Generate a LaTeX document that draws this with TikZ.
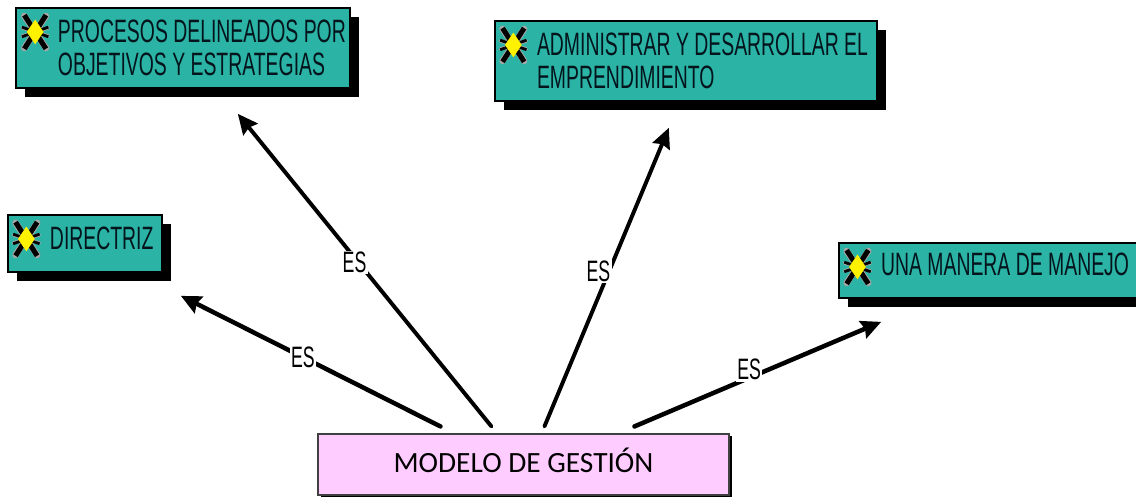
\documentclass[tikz,border=0pt]{standalone}
\usepackage{fontspec}
\usetikzlibrary{shadows,arrows.meta}
\newfontfamily\cajafont[FakeStretch=0.6]{Liberation Sans}
\newfontfamily\modelofont{Carlito}
\definecolor{verdecaja}{HTML}{2BB3A5}
\definecolor{rosacaja}{HTML}{FFCCFF}
\definecolor{tinta}{HTML}{04141C}
\tikzset{
	caja/.style={rectangle,draw=black,line width=1.2pt,fill=verdecaja,text=tinta,
		drop shadow={shadow xshift=0.22cm,shadow yshift=-0.23cm,fill=black,opacity=1},
		inner sep=0pt,align=flush left,font=\cajafont\fontsize{23}{23.5}\selectfont,
		execute at begin node={\leftskip=1.05cm}},
	modelo/.style={rectangle,draw=black!75,line width=0.8pt,fill=rosacaja,
		drop shadow={shadow xshift=0.08cm,shadow yshift=-0.06cm,fill=black,opacity=1},
		font=\modelofont\fontsize{20.9}{24}\selectfont},
	flecha/.style={-{Stealth[length=0.5cm,width=0.46cm,inset=0.06cm]},line width=#1,black,line cap=round},
	es/.style={fill=white,inner sep=1pt,font=\cajafont\fontsize{21}{23}\selectfont},
	insignia/.pic={
		\foreach \sx in {-1,1} \foreach \sy in {-1,1} {
			\draw[black!35,line width=4.6pt,line cap=round] (0,0) -- (\sx*0.27,\sy*0.4);
			\draw[black!35,line width=2.6pt,line cap=round] (\sx*0.1,\sy*0.04) -- (\sx*0.32,\sy*0.1);
			\draw[black,line width=3.6pt] (0,0) -- (\sx*0.27,\sy*0.42);
			\draw[black,line width=2pt] (\sx*0.1,\sy*0.04) -- (\sx*0.33,\sy*0.12);
		}
		\fill[yellow] (0,0.31) -- (0.21,0) -- (0,-0.31) -- (-0.21,0) -- cycle;
	}
}
\begin{document}
\begin{tikzpicture}

		\clip (0,0) rectangle (28.4,-12.425);
		\fill[white] (0,0) rectangle (28.4,-12.425);

		\node[caja,minimum height=2cm,text width=8.35cm] (procesos) at (4.575,-1.2) {PROCESOS DELINEADOS POR\\OBJETIVOS Y ESTRATEGIAS};
		\node[caja,minimum height=2cm,text width=9.55cm] (administrar) at (17.15,-1.525) {ADMINISTRAR Y DESARROLLAR EL\\EMPRENDIMIENTO};
		\node[caja,minimum height=1.425cm,text width=3.85cm,text depth=0.25cm] (directriz) at (2.125,-6.0875) {DIRECTRIZ};
		\node[caja,minimum height=1.375cm,text width=7.525cm,text depth=0.3cm] (manera) at (24.74,-6.7625) {UNA MANERA DE MANEJO};
		\node[modelo,minimum width=10.275cm,minimum height=1.525cm,text depth=0.2cm] (gestion) at (13.0875,-11.6125) {MODELO DE GESTIÓN};

		\pic at ([shift={(0.5,-0.62)}]procesos.north west) {insignia};
		\pic at ([shift={(0.48,-0.62)}]administrar.north west) {insignia};
		\pic at ([shift={(0.48,-0.62)}]directriz.north west) {insignia};
		\pic at ([shift={(0.48,-0.62)}]manera.north west) {insignia};

		\path[flecha=3.2pt] ([shift={(3.075,0.175)}]gestion.north west) edge node[es,pos=0.53] {ES} ([shift={(0.45,-0.575)}]directriz.south east);
		\path[flecha=2.8pt] ([shift={(4.35,0.175)}]gestion.north west) edge node[es,pos=0.54,yshift=-0.12cm] {ES} ([shift={(-2.825,-0.625)}]procesos.south east);
		\path[flecha=2.8pt] ([shift={(5.675,0.175)}]gestion.north west) edge node[es,pos=0.52,xshift=-0.27cm] {ES} ([shift={(-5.225,-0.65)}]administrar.south east);
		\path[flecha=3.2pt] ([shift={(7.925,0.175)}]gestion.north west) edge node[es,pos=0.465,yshift=0.2cm] {ES} ([shift={(1.075,-0.575)}]manera.south west);

	\end{tikzpicture}
\end{document}
